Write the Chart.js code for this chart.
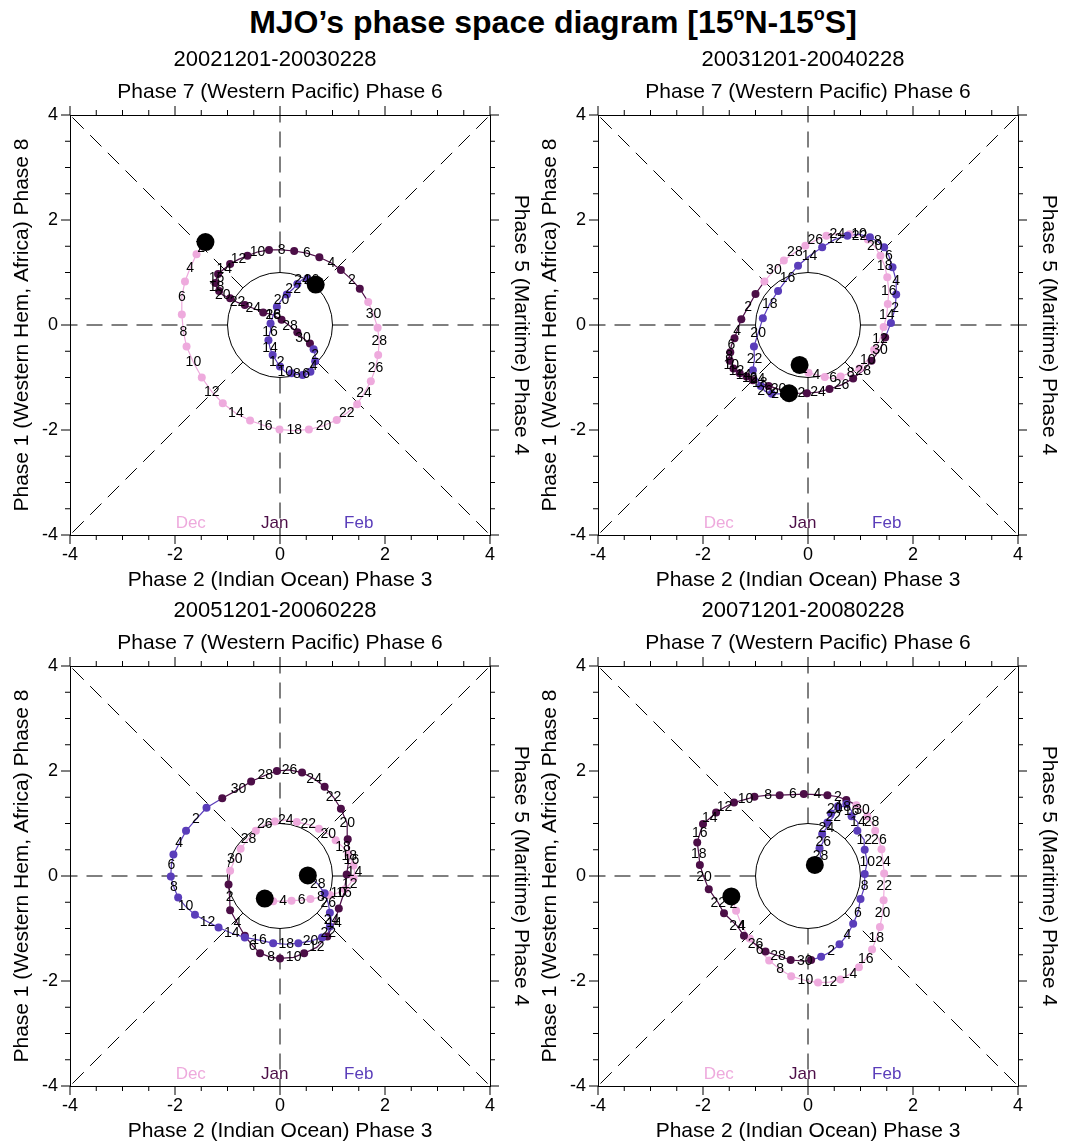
<!DOCTYPE html>
<html>
<head>
<meta charset="utf-8">
<script src="https://cdn.jsdelivr.net/npm/chart.js@4.4.1/dist/chart.umd.min.js"></script>
<style>
  html, body { margin:0; padding:0; background:#fff; overflow:hidden; width:1078px; height:1143px; }
  #title { position:absolute; left:14px; top:3px; width:1078px; text-align:center;
           font: bold 32px 'Liberation Sans', Arial, sans-serif; color:#000; line-height:38px; }
  #title sup { font-size:18px; vertical-align: 13px; line-height:0; }
  canvas { position:absolute; }
</style>
</head>
<body>
<div id="title">MJO’s phase space diagram [15<sup>o</sup>N-15<sup>o</sup>S]</div>
<canvas id="c1" width="550" height="560" style="left:0px;top:35px;width:550px;height:560px"></canvas>
<canvas id="c2" width="550" height="560" style="left:528px;top:35px;width:550px;height:560px"></canvas>
<canvas id="c3" width="550" height="560" style="left:0px;top:586px;width:550px;height:560px"></canvas>
<canvas id="c4" width="550" height="560" style="left:528px;top:586px;width:550px;height:560px"></canvas>
<script>
// ---------------- DATA (RMM1, RMM2) per day ----------------
const periods = ['20021201-20030228', '20031201-20040228', '20051201-20060228', '20071201-20080228'];
const monthNames = ['Dec', 'Jan', 'Feb'];
const tickValues = [-4, -2, 0, 2, 4];

const p1Dec = [[-1.42,1.58],[-1.50,1.46],[-1.59,1.35],[-1.71,1.09],[-1.81,0.83],[-1.87,0.54],[-1.87,0.20],[-1.84,-0.13],[-1.78,-0.41],[-1.65,-0.71],[-1.49,-1.00],[-1.30,-1.27],[-1.09,-1.49],[-0.84,-1.68],[-0.57,-1.82],[-0.29,-1.92],[-0.01,-1.99],[0.27,-2.01],[0.55,-1.99],[0.83,-1.92],[1.08,-1.81],[1.27,-1.68],[1.47,-1.51],[1.60,-1.30],[1.73,-1.07],[1.82,-0.82],[1.87,-0.57],[1.89,-0.31],[1.86,-0.05],[1.78,0.20],[1.68,0.44]];
const p1Jan = [[1.52,0.69],[1.37,0.86],[1.16,1.05],[0.98,1.18],[0.75,1.29],[0.51,1.37],[0.27,1.41],[0.03,1.43],[-0.21,1.43],[-0.43,1.39],[-0.62,1.32],[-0.79,1.25],[-0.95,1.16],[-1.06,1.07],[-1.18,0.97],[-1.21,0.89],[-1.23,0.80],[-1.21,0.72],[-1.16,0.65],[-1.09,0.57],[-0.95,0.51],[-0.81,0.43],[-0.67,0.38],[-0.51,0.32],[-0.32,0.24],[-0.13,0.19],[0.03,0.10],[0.19,-0.02],[0.33,-0.14],[0.44,-0.25],[0.57,-0.35]];
const p1Feb = [[0.64,-0.46],[0.67,-0.57],[0.67,-0.69],[0.64,-0.79],[0.58,-0.89],[0.50,-0.94],[0.43,-0.95],[0.32,-0.94],[0.22,-0.92],[0.10,-0.89],[0.00,-0.79],[-0.06,-0.70],[-0.14,-0.57],[-0.19,-0.44],[-0.22,-0.29],[-0.19,-0.13],[-0.18,0.03],[-0.13,0.18],[-0.06,0.35],[0.03,0.48],[0.13,0.58],[0.25,0.69],[0.33,0.78],[0.42,0.86],[0.52,0.88],[0.60,0.85],[0.65,0.81],[0.68,0.77]];

const p2Dec = [[-0.16,-0.76],[-0.08,-0.85],[0.01,-0.91],[0.16,-0.95],[0.32,-0.99],[0.48,-1.02],[0.62,-0.98],[0.81,-0.91],[0.98,-0.83],[1.14,-0.66],[1.26,-0.47],[1.37,-0.27],[1.44,-0.04],[1.50,0.18],[1.52,0.40],[1.54,0.65],[1.51,0.91],[1.46,1.13],[1.38,1.32],[1.27,1.50],[1.14,1.63],[0.98,1.70],[0.79,1.73],[0.56,1.74],[0.35,1.70],[0.14,1.61],[-0.05,1.51],[-0.25,1.38],[-0.46,1.23],[-0.65,1.04],[-0.83,0.83]];
const p2Jan = [[-1.00,0.59],[-1.14,0.34],[-1.27,0.11],[-1.35,-0.11],[-1.40,-0.25],[-1.46,-0.39],[-1.48,-0.52],[-1.50,-0.60],[-1.49,-0.68],[-1.46,-0.76],[-1.42,-0.83],[-1.36,-0.88],[-1.30,-0.92],[-1.23,-0.95],[-1.17,-0.98],[-1.11,-1.02],[-1.05,-1.05],[-0.92,-1.10],[-0.75,-1.16],[-0.56,-1.22],[-0.36,-1.27],[-0.20,-1.30],[-0.02,-1.30],[0.19,-1.28],[0.41,-1.22],[0.64,-1.14],[0.86,-1.02],[1.05,-0.87],[1.21,-0.68],[1.37,-0.47],[1.47,-0.24]];
const p2Feb = [[1.58,0.04],[1.66,0.32],[1.68,0.58],[1.68,0.84],[1.61,1.10],[1.54,1.32],[1.45,1.48],[1.33,1.59],[1.18,1.67],[0.97,1.73],[0.75,1.70],[0.51,1.63],[0.27,1.48],[0.03,1.32],[-0.19,1.13],[-0.39,0.89],[-0.57,0.65],[-0.73,0.40],[-0.86,0.13],[-0.95,-0.16],[-1.03,-0.41],[-1.02,-0.65],[-1.05,-0.86],[-0.96,-1.04],[-0.90,-1.16],[-0.82,-1.26],[-0.69,-1.31],[-0.55,-1.31],[-0.36,-1.30]];

const p3Dec = [[-0.29,-0.43],[-0.22,-0.46],[-0.13,-0.48],[0.06,-0.48],[0.22,-0.47],[0.41,-0.46],[0.58,-0.44],[0.78,-0.40],[0.95,-0.36],[1.11,-0.32],[1.24,-0.25],[1.33,-0.15],[1.40,-0.04],[1.42,0.08],[1.40,0.20],[1.36,0.30],[1.30,0.42],[1.20,0.55],[1.06,0.68],[0.92,0.80],[0.74,0.90],[0.54,0.98],[0.32,1.03],[0.11,1.07],[-0.10,1.04],[-0.29,0.98],[-0.46,0.86],[-0.60,0.71],[-0.75,0.52],[-0.86,0.32],[-0.95,0.10]];
const p3Jan = [[-0.98,-0.16],[-0.96,-0.40],[-0.95,-0.65],[-0.81,-0.90],[-0.67,-1.14],[-0.52,-1.33],[-0.38,-1.47],[-0.17,-1.55],[0.00,-1.57],[0.26,-1.55],[0.46,-1.47],[0.70,-1.36],[0.90,-1.15],[1.03,-0.90],[1.12,-0.62],[1.22,-0.32],[1.27,0.03],[1.32,0.38],[1.29,0.70],[1.28,1.00],[1.16,1.28],[1.02,1.50],[0.85,1.70],[0.65,1.85],[0.42,1.97],[0.18,2.02],[-0.06,2.00],[-0.28,1.92],[-0.55,1.80],[-0.79,1.65],[-1.10,1.48]];
const p3Feb = [[-1.40,1.30],[-1.60,1.08],[-1.79,0.86],[-1.92,0.62],[-2.03,0.41],[-2.07,0.20],[-2.08,-0.01],[-2.02,-0.22],[-1.94,-0.41],[-1.80,-0.58],[-1.62,-0.74],[-1.38,-0.87],[-1.17,-0.98],[-0.92,-1.09],[-0.67,-1.17],[-0.40,-1.22],[-0.13,-1.28],[0.12,-1.30],[0.35,-1.28],[0.58,-1.24],[0.80,-1.17],[0.92,-1.08],[0.95,-0.96],[0.98,-0.84],[0.95,-0.70],[0.92,-0.52],[0.85,-0.33],[0.72,-0.15],[0.53,0.01]];

const p4Dec = [[-1.46,-0.39],[-1.42,-0.53],[-1.37,-0.66],[-1.26,-0.95],[-1.11,-1.19],[-0.92,-1.41],[-0.74,-1.61],[-0.53,-1.78],[-0.32,-1.91],[-0.05,-1.99],[0.19,-2.03],[0.41,-2.02],[0.62,-1.97],[0.79,-1.87],[0.97,-1.74],[1.10,-1.58],[1.22,-1.40],[1.30,-1.19],[1.37,-0.97],[1.42,-0.71],[1.44,-0.46],[1.45,-0.20],[1.45,0.05],[1.43,0.27],[1.40,0.51],[1.35,0.69],[1.28,0.86],[1.21,1.02],[1.13,1.14],[1.03,1.26],[0.92,1.35]];
const p4Jan = [[0.73,1.45],[0.57,1.51],[0.37,1.54],[0.18,1.55],[-0.08,1.56],[-0.29,1.55],[-0.54,1.54],[-0.76,1.54],[-1.02,1.51],[-1.19,1.46],[-1.41,1.40],[-1.59,1.31],[-1.75,1.21],[-1.87,1.10],[-2.00,0.99],[-2.06,0.81],[-2.11,0.64],[-2.08,0.42],[-2.06,0.21],[-1.98,-0.03],[-1.89,-0.25],[-1.71,-0.51],[-1.60,-0.71],[-1.35,-0.95],[-1.22,-1.14],[-1.00,-1.30],[-0.81,-1.44],[-0.57,-1.52],[-0.33,-1.60],[-0.06,-1.62],[0.06,-1.60]];
const p4Feb = [[0.25,-1.54],[0.44,-1.44],[0.60,-1.30],[0.75,-1.12],[0.86,-0.91],[0.95,-0.70],[1.00,-0.44],[1.08,-0.20],[1.08,0.04],[1.13,0.27],[1.08,0.50],[1.07,0.69],[0.94,0.86],[0.95,1.02],[0.83,1.14],[0.83,1.24],[0.73,1.37],[0.67,1.32],[0.57,1.33],[0.51,1.27],[0.44,1.19],[0.48,1.12],[0.37,1.02],[0.35,0.91],[0.27,0.80],[0.29,0.65],[0.22,0.53],[0.24,0.37],[0.13,0.21]];

const panelData = [[p1Dec, p1Jan, p1Feb], [p2Dec, p2Jan, p2Feb], [p3Dec, p3Jan, p3Feb], [p4Dec, p4Jan, p4Feb]];

// ---------------- STYLE ----------------
const FONT = "'Liberation Sans', Arial, Helvetica, sans-serif";
const monthColors = ['#EEAADD', '#4C0E47', '#5A3DBA'];

function buildTrack(months) {
  const pts = [], mon = [], day = [];
  months.forEach((arr, m) => arr.forEach((v, i) => { pts.push({x: v[0], y: v[1]}); mon.push(m); day.push(i + 1); }));
  return {pts, mon, day};
}

// Background decorations: unit circle, dashed phase lines, tick marks, month names
const decorPlugin = {
  id: 'decor',
  beforeDatasetsDraw(chart) {
    const {ctx, chartArea: a, scales: {x, y}} = chart;
    ctx.save();
    ctx.strokeStyle = '#000';
    ctx.lineWidth = 1;
    const cx = x.getPixelForValue(0), cy = y.getPixelForValue(0);
    const r = x.getPixelForValue(1) - cx;
    ctx.beginPath(); ctx.arc(cx, cy, r, 0, Math.PI * 2); ctx.stroke();
    ctx.setLineDash([16, 9]);
    const c = Math.SQRT1_2;
    const dirs = [[1,0,4,0],[-1,0,-4,0],[0,1,0,4],[0,-1,0,-4],[c,c,4,4],[-c,c,-4,4],[c,-c,4,-4],[-c,-c,-4,-4]];
    dirs.forEach(d => {
      ctx.beginPath();
      ctx.moveTo(x.getPixelForValue(d[0]), y.getPixelForValue(d[1]));
      ctx.lineTo(x.getPixelForValue(d[2]), y.getPixelForValue(d[3]));
      ctx.stroke();
    });
    ctx.setLineDash([]);
    for (let v = -4; v <= 4.001; v += 0.5) {
      const len = (Math.abs(v % 2) < 1e-6) ? 9 : 5;
      const px = x.getPixelForValue(v), py = y.getPixelForValue(v);
      ctx.beginPath();
      ctx.moveTo(px, a.bottom); ctx.lineTo(px, a.bottom + len);
      ctx.moveTo(px, a.top); ctx.lineTo(px, a.top - len);
      ctx.moveTo(a.left, py); ctx.lineTo(a.left - len, py);
      ctx.moveTo(a.right, py); ctx.lineTo(a.right + len, py);
      ctx.stroke();
    }
    ctx.font = '17px ' + FONT;
    ctx.textAlign = 'center'; ctx.textBaseline = 'middle';
    const mx = [-1.7, -0.1, 1.5];
    monthNames.forEach((m, i) => {
      ctx.fillStyle = monthColors[i];
      ctx.fillText(m, x.getPixelForValue(mx[i]), y.getPixelForValue(-3.78));
    });
    ctx.restore();
  }
};

// Day numbers on even days, drawn right after the trajectory dataset
const dayLabelPlugin = {
  id: 'daylabels',
  afterDatasetDraw(chart, args) {
    if (args.index !== 1) return;
    const track = chart.$track;
    const {ctx} = chart;
    ctx.save();
    ctx.font = '14px ' + FONT;
    ctx.fillStyle = '#000';
    ctx.textAlign = 'center'; ctx.textBaseline = 'middle';
    args.meta.data.forEach((el, i) => {
      if (track.day[i] % 2 === 0) ctx.fillText(String(track.day[i]), el.x, el.y);
    });
    ctx.restore();
  }
};

['c1', 'c2', 'c3', 'c4'].forEach((id, i) => { document.getElementById(id).$trackIdx = i; });
Chart.register({
  id: 'trackAttach',
  beforeInit(chart) { chart.$track = buildTrack(panelData[chart.canvas.$trackIdx]); }
});

function makeChart(canvasId, idx) {
  const track = buildTrack(panelData[idx]);
  const n = track.pts.length;
  const axisTitleFont = {family: FONT, size: 21, lineHeight: 1.2};
  const tickFont = {family: FONT, size: 18, lineHeight: 1.2};
  const border = {display: true, color: '#000', width: 1};
  return new Chart(document.getElementById(canvasId), {
    type: 'scatter',
    data: {
      datasets: [
        { // start / end markers
          data: [track.pts[0], track.pts[n - 1]],
          pointRadius: 9, pointBackgroundColor: '#000', pointBorderWidth: 0,
          showLine: false
        },
        { // daily trajectory
          data: track.pts,
          showLine: true, borderWidth: 1.2, tension: 0,
          segment: { borderColor: c => monthColors[track.mon[c.p1DataIndex]] },
          borderColor: monthColors[0],
          pointRadius: c => (track.day[c.dataIndex] % 2 === 1 ? 4 : 0),
          pointBackgroundColor: c => monthColors[track.mon[c.dataIndex]],
          pointBorderWidth: 0
        }
      ]
    },
    options: {
      responsive: false, animation: false, events: [],
      layout: {padding: 0},
      plugins: {
        legend: {display: false}, tooltip: {enabled: false},
        title: {display: true, text: periods[idx], color: '#000',
                font: {family: FONT, size: 22, weight: 'normal', lineHeight: 1.2},
                padding: {top: 12, bottom: 0}}
      },
      scales: {
        x: { type: 'linear', position: 'bottom', min: -4, max: 4,
             grid: {display: false, drawTicks: false}, border,
             ticks: {stepSize: 2, color: '#000', font: tickFont, padding: 9, maxRotation: 0, autoSkip: false,
                     callback: v => tickValues.includes(v) ? String(v) : ''},
             title: {display: true, text: 'Phase 2 (Indian Ocean) Phase 3', color: '#000', font: axisTitleFont, padding: {top: 0, bottom: 2.4}},
             afterFit: s => { s.height = 60; } },
        x2: { type: 'linear', position: 'top', min: -4, max: 4,
             grid: {display: false, drawTicks: false}, border,
             ticks: {display: false},
             title: {display: true, text: 'Phase 7 (Western Pacific) Phase 6', color: '#000', font: axisTitleFont, padding: {top: 6, bottom: 0}},
             afterFit: s => { s.height = 41.6; } },
        y: { type: 'linear', position: 'left', min: -4, max: 4,
             grid: {display: false, drawTicks: false}, border,
             ticks: {stepSize: 2, color: '#000', font: tickFont, padding: 12,
                     callback: v => tickValues.includes(v) ? String(v) : ''},
             title: {display: true, text: 'Phase 1 (Western Hem, Africa) Phase 8', color: '#000', font: axisTitleFont, padding: {top: 9.4, bottom: 0}},
             afterFit: s => { s.width = 70; } },
        y2: { type: 'linear', position: 'right', min: -4, max: 4,
             grid: {display: false, drawTicks: false}, border,
             ticks: {display: false},
             title: {display: true, text: 'Phase 5 (Maritime) Phase 4', color: '#000', font: axisTitleFont, padding: {top: 16.4, bottom: 0}},
             afterFit: s => { s.width = 60; } }
      }
    },
    plugins: [decorPlugin, dayLabelPlugin]
  });
}

makeChart('c1', 0); makeChart('c2', 1); makeChart('c3', 2); makeChart('c4', 3);
</script>
</body>
</html>
